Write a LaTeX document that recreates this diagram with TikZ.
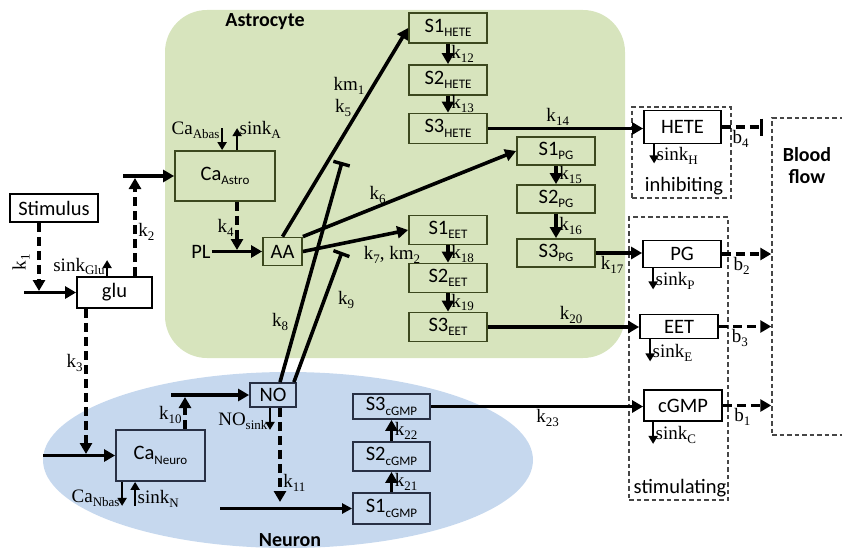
\documentclass[tikz,border=0pt]{standalone}
\usepackage{fontspec}
\setmainfont{Liberation Serif}
\setsansfont{Carlito}
\usepackage{xcolor}
\usepackage{tikz}
\usetikzlibrary{arrows.meta,calc,positioning}
\definecolor{ink}{RGB}{0,0,0}
\definecolor{astrofill}{RGB}{215,228,189}
\definecolor{astrostroke}{RGB}{60,72,30}
\definecolor{neurofill}{RGB}{198,216,238}
\definecolor{neurostroke}{RGB}{40,48,68}
\definecolor{zonestroke}{RGB}{70,70,70}
\newcommand{\lsub}[1]{\raisebox{-0.45ex}{\fontsize{13}{14}\selectfont #1}}
\tikzset{
  cbox/.style={
    draw=#1, line width=1.8pt,
    minimum height=29pt, minimum width=78pt,
    align=center, font=\fontsize{20.5}{22}\selectfont\sffamily, inner sep=0pt,
  },
  cbox/.default=ink,
  region/.style={font=\fontsize{20}{22}\selectfont\sffamily\bfseries, align=center, inner sep=1pt},
  slbl/.style={font=\fontsize{20.5}{22}\selectfont\sffamily, inner sep=1pt},
  klbl/.style={font=\fontsize{19}{21}\selectfont, inner sep=1.5pt},
  zone/.style={draw=zonestroke, line width=1.5pt, dash pattern=on 4.5pt off 3pt, inner sep=0pt},
  arr/.style={-{Triangle[length=11pt,width=12pt]}, line width=3.6pt, draw=ink},
  darr/.style={arr, dash pattern=on 9pt off 5pt},
  thinarr/.style={-{Triangle[length=10pt,width=10pt]}, line width=2.4pt, draw=ink},
  sarr/.style={-{Triangle[length=8pt,width=9pt]}, line width=2.2pt, draw=ink},
  inh/.style={-{Bar[width=17pt,line width=3.4pt]}, line width=3.6pt, draw=ink},
  dinh/.style={inh, dash pattern=on 9pt off 5pt},
}

\begin{document}
\begin{tikzpicture}[x=1pt,y=-1pt]
  \useasboundingbox (0,0) rectangle (842,551);

  % Cell compartments
  \fill[astrofill, rounded corners=42pt] (165,10) rectangle (625,358);
  \fill[neurofill] (288,460) ellipse [x radius=245, y radius=88];
  \node[region] (astro) at (265,22) {Astrocyte};
  \node[region] (neuron) at (290,540) {Neuron};

  % Effect zones
  \node[zone, minimum width=99pt, minimum height=91pt] (inhzone) at (681.5,152.5) {};
  \node[zone, minimum width=99pt, minimum height=283pt] (stimzone) at (678.5,358.5) {};
  \node[zone, minimum width=140pt, minimum height=317pt] (blood) at (842,276.5) {};
  \node[region] (bloodlbl) at (807,166) {Blood\\flow};
  \node[slbl] (inhlbl) at (684,186) {inhibiting};
  \node[slbl] (stimlbl) at (680,488) {stimulating};

  % Input nodes
  \node[cbox, fill=white, minimum width=88pt, minimum height=28pt] (stim) at (54,208) {Stimulus};
  \node[cbox, fill=white, minimum width=75pt, minimum height=31pt] (glu) at (114.5,292.5) {glu};

  % Astrocyte nodes
  \node[cbox=astrostroke, minimum width=100pt, minimum height=50pt] (caastro) at (225,176) {Ca\lsub{Astro}};
  \node[cbox=astrostroke, minimum width=39pt, minimum height=28pt] (aa) at (282.5,251.5) {AA};
  \node[cbox=astrostroke, minimum height=30pt] (s1h) at (448,28) {S1\lsub{HETE}};
  \node[cbox=astrostroke, minimum height=30pt] (s2h) at (448,80) {S2\lsub{HETE}};
  \node[cbox=astrostroke, minimum height=30pt] (s3h) at (448,128.5) {S3\lsub{HETE}};
  \node[cbox=astrostroke, minimum height=28pt] (s1p) at (556,151) {S1\lsub{PG}};
  \node[cbox=astrostroke, minimum height=28pt] (s2p) at (556,199) {S2\lsub{PG}};
  \node[cbox=astrostroke, minimum height=28pt] (s3p) at (556,253) {S3\lsub{PG}};
  \node[cbox=astrostroke] (s1e) at (448,230) {S1\lsub{EET}};
  \node[cbox=astrostroke] (s2e) at (448,278) {S2\lsub{EET}};
  \node[cbox=astrostroke] (s3e) at (448,327) {S3\lsub{EET}};

  % Output nodes
  \node[cbox, fill=white, minimum width=77pt, minimum height=33pt] (hete) at (682.5,127) {HETE};
  \node[cbox, fill=white, minimum height=27pt] (pg) at (682,254) {PG};
  \node[cbox, fill=white, minimum height=24pt] (eet) at (679,326.5) {EET};
  \node[cbox, fill=white, minimum height=31pt] (cgmp) at (683,405.5) {cGMP};

  % Neuron nodes
  \node[cbox=neurostroke, minimum width=46pt, minimum height=24pt] (no) at (273,395) {NO};
  \node[cbox=neurostroke, minimum width=89pt, minimum height=51pt] (caneuro) at (160.5,455.5) {Ca\lsub{Neuro}};
  \node[cbox=neurostroke, minimum width=77pt, minimum height=25pt] (s3c) at (391.5,406.5) {S3\lsub{cGMP}};
  \node[cbox=neurostroke, minimum width=77pt] (s2c) at (391.5,456.5) {S2\lsub{cGMP}};
  \node[cbox=neurostroke, minimum width=77pt, minimum height=31pt] (s1c) at (391.5,508.5) {S1\lsub{cGMP}};

  % Glutamate and astrocyte calcium
  \coordinate (gluin) at (24,292.5);
  \coordinate (k1end) at (39,291);
  \draw[arr] (gluin) -- (glu.west);
  \draw[darr] (stim.south -| k1end) -- (k1end);
  \node[klbl, rotate=90] (k1) at (21,262) {k\lsub{1}};
  \draw[sarr] ($(glu.north west)+(31,0)$) -- ++(0,-16) node[klbl, left, pos=0.6] {sink\lsub{Glu}};
  \coordinate (caain) at (123,176);
  \coordinate (k2end) at (135,178);
  \draw[arr] (caain) -- (caastro.west);
  \draw[darr] (glu.north -| k2end) -- (k2end) node[klbl, right, pos=0.45] {k\lsub{2}};
  \draw[sarr] ($(caastro.north west)+(48,-22)$) -- ++(0,22) node[klbl, left, pos=0.1] {Ca\lsub{Abas}};
  \draw[sarr] ($(caastro.north west)+(63,0)$) -- ++(0,-22) node[klbl, right, pos=0.9] {sink\lsub{A}};

  % PL to AA
  \node[slbl] (pl) at (201,251.5) {PL};
  \coordinate (k4end) at (237,250);
  \draw[arr] (pl.east) -- (aa.west);
  \draw[darr] (caastro.south -| k4end) -- (k4end) node[klbl, left, pos=0.55] {k\lsub{4}};

  % AA products
  \draw[arr] (aa.north) -- (s1h.west);
  \node[klbl] (km1) at (349,86) {km\lsub{1}};
  \node[klbl] (k5) at (343,108) {k\lsub{5}};
  \draw[arr] (aa.north east) -- (s1p.west) node[klbl, above, pos=0.35] {k\lsub{6}};
  \draw[arr] (aa.east) -- (s1e.west);
  \node[klbl] (k7) at (392,255) {k\lsub{7}, km\lsub{2}};

  % NO inhibition
  \coordinate (bar1) at (342,162);
  \coordinate (bar2) at (342,252);
  \draw[inh] ($(no.north)+(7,0)$) -- (bar1);
  \draw[inh] ($(no.north east)+(-3,0)$) -- (bar2);
  \node[klbl] (k8) at (280,322) {k\lsub{8}};
  \node[klbl] (k9) at (346,300) {k\lsub{9}};

  % Astrocyte chains
  \draw[arr] (s1h.south) -- (s2h.north) node[klbl, right, midway] {k\lsub{12}};
  \draw[arr] (s2h.south) -- (s3h.north) node[klbl, right, midway] {k\lsub{13}};
  \draw[arr] (s3h.east) -- (s3h.east -| hete.west) node[klbl, above, pos=0.45] {k\lsub{14}};
  \draw[arr] (s1p.south) -- (s2p.north) node[klbl, right, midway] {k\lsub{15}};
  \draw[arr] (s2p.south) -- (s3p.north) node[klbl, right, midway] {k\lsub{16}};
  \draw[arr] (s3p.east) -- (s3p.east -| pg.west) node[klbl, below, pos=0.35] {k\lsub{17}};
  \draw[arr] (s1e.south) -- (s2e.north) node[klbl, right, midway] {k\lsub{18}};
  \draw[arr] (s2e.south) -- (s3e.north) node[klbl, right, midway] {k\lsub{19}};
  \draw[arr] (s3e.east) -- (s3e.east -| eet.west) node[klbl, above, pos=0.55] {k\lsub{20}};

  % Neuron side
  \coordinate (k3end) at (86,454);
  \coordinate (cain) at (43,455.5);
  \draw[darr] (glu.south -| k3end) -- (k3end) node[klbl, left, pos=0.37] {k\lsub{3}};
  \draw[arr] (cain) -- (caneuro.west);
  \coordinate (noin) at (171,395);
  \coordinate (k10end) at (185,397);
  \draw[arr] (noin) -- (no.west);
  \draw[darr] (caneuro.north -| k10end) -- (k10end) node[klbl, left, pos=0.45] {k\lsub{10}};
  \draw[sarr] ($(caneuro.south west)+(7,0)$) -- ++(0,24) node[klbl, left, pos=0.7] {Ca\lsub{Nbas}};
  \draw[sarr] ($(caneuro.south west)+(20,24)$) -- ++(0,-24) node[klbl, right, pos=0.3] {sink\lsub{N}};
  \draw[sarr] ($(no.south)+(-3,0)$) -- ++(0,22) node[klbl, left, pos=0.6] {NO\lsub{sink}};
  \coordinate (k11end) at (280,502);
  \coordinate (s1cin) at (220,508.5);
  \draw[darr] ($(no.south)+(7,0)$) -- (k11end) node[klbl, right, pos=0.8] {k\lsub{11}};
  \draw[thinarr] (s1cin) -- (s1c.west);
  \draw[arr] (s1c.north) -- (s2c.south) node[klbl, right, midway] {k\lsub{21}};
  \draw[arr] (s2c.north) -- (s3c.south) node[klbl, right, midway] {k\lsub{22}};
  \draw[arr] (s3c.east) -- (s3c.east -| cgmp.west) node[klbl, below, pos=0.55] {k\lsub{23}};

  % Sinks of the outputs
  \draw[sarr] ($(hete.south west)+(11,0)$) -- ++(0,19) node[klbl, right, pos=0.6] {sink\lsub{H}};
  \draw[sarr] ($(pg.south west)+(11,0)$) -- ++(0,21) node[klbl, right, pos=0.6] {sink\lsub{P}};
  \draw[sarr] ($(eet.south west)+(11,0)$) -- ++(0,22) node[klbl, right, pos=0.6] {sink\lsub{E}};
  \draw[sarr] ($(cgmp.south west)+(10,0)$) -- ++(0,22) node[klbl, right, pos=0.6] {sink\lsub{C}};

  % Effects on blood flow
  \draw[dinh] (hete.east) -- ($(hete.east -| blood.west)+(-8,0)$) node[klbl, below, pos=0.45] {b\lsub{4}};
  \draw[darr] (pg.east) -- (pg.east -| blood.west) node[klbl, below, pos=0.4] {b\lsub{2}};
  \draw[darr] (eet.east) -- (eet.east -| blood.west) node[klbl, below, pos=0.4] {b\lsub{3}};
  \draw[darr] (cgmp.east) -- (cgmp.east -| blood.west) node[klbl, below, pos=0.4] {b\lsub{1}};
\end{tikzpicture}
\end{document}
